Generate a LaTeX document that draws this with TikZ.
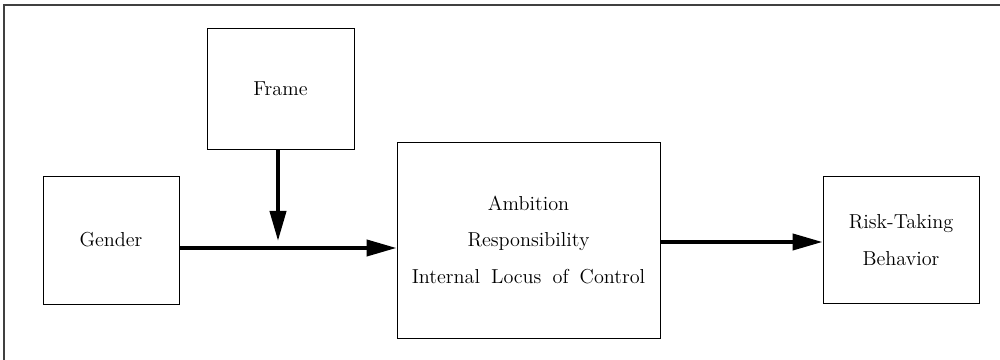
\documentclass[tikz,border=0pt]{standalone}
\usetikzlibrary{arrows.meta}

\begin{document}
\begin{tikzpicture}[
			box/.style={draw, line width=0.5pt, align=center, inner sep=0pt,
				font=\fontsize{11.5}{21}\selectfont},
			flow/.style={line width=2.3pt, -{Triangle[length=6mm,width=3.2mm]}}]
			\useasboundingbox (0,0) rectangle (20,7.2);
			\draw[line width=0.6pt, color=black!75] (0.08,0) -- (0.08,7.1) -- (20,7.1);
			\node[box, minimum width=2.94cm, minimum height=2.42cm] (frame) at (5.61,5.43) {Frame};
			\node[box, minimum width=2.72cm, minimum height=2.56cm] (gender) at (2.22,2.4) {Gender};
			\node[box, minimum width=5.26cm, minimum height=3.92cm] (traits) at (10.57,2.4)
				{Ambition\\Responsibility\\{\spaceskip=0.55em Internal Locus of Control}};
			\node[box, minimum width=3.12cm, minimum height=2.54cm] (risk) at (18.02,2.4)
				{Risk-Taking\\Behavior};
			\coordinate (join) at (5.56,2.38);

			\draw[flow] ([yshift=-1.6mm]gender.east) -- ([yshift=-1.6mm]traits.west);
			\draw[flow] (frame.south -| join) -- (join);
			\draw[flow] ([yshift=-0.4mm]traits.east) -- ([yshift=-0.4mm]risk.west);
			\end{tikzpicture}
\end{document}
